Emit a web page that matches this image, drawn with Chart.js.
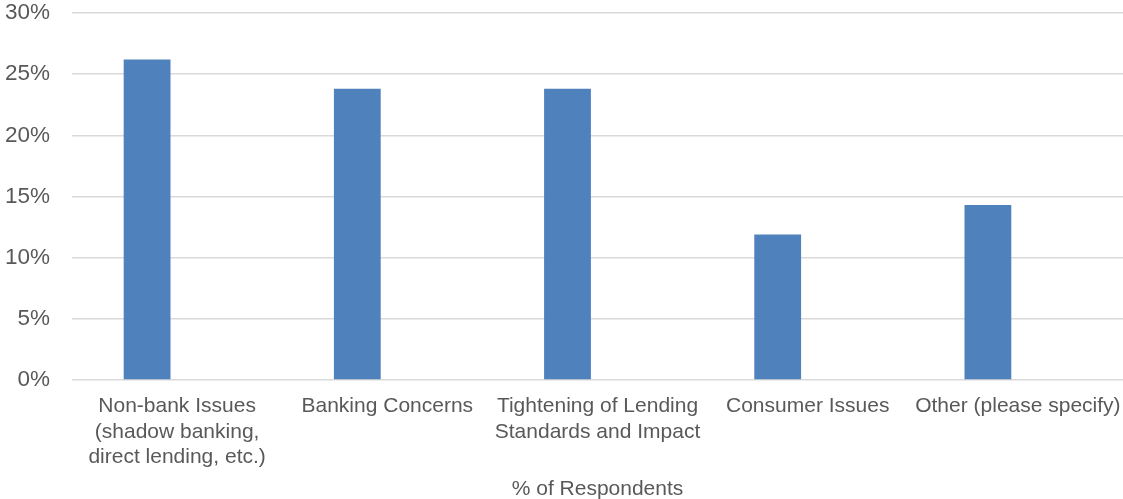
<!DOCTYPE html>
<html>
<head>
<meta charset="utf-8">
<script src="https://cdn.jsdelivr.net/npm/chart.js@4/dist/chart.umd.min.js"></script>
<style>
html,body{margin:0;padding:0;background:#fff;}
#wrap{width:1123px;height:499px;position:relative;}
</style>
</head>
<body>
<div id="wrap"><canvas id="c" width="1123" height="499"></canvas></div>
<script>
const categories = [
  ["Non-bank Issues", "(shadow banking,", "direct lending, etc.)"],
  "Banking Concerns",
  ["Tightening of Lending", "Standards and Impact"],
  "Consumer Issues",
  "Other (please specify)"
];
const respondents = [26.2, 23.8, 23.8, 11.9, 14.3];
const emptySeries = [null, null, null, null, null];
const yTicks = [0, 5, 10, 15, 20, 25, 30];
const axisTitle = "% of Respondents";

const FONT = "'Liberation Sans', Arial, sans-serif";
const TXT = "#595959";

new Chart(document.getElementById('c'), {
  type: 'bar',
  data: {
    labels: categories,
    datasets: [
      { data: respondents, backgroundColor: '#4f81bd', borderColor: '#4f81bd', borderWidth: 0,
        barPercentage: 0.78, categoryPercentage: 0.571 },
      { data: emptySeries, backgroundColor: '#c0504d',
        barPercentage: 0.78, categoryPercentage: 0.571 }
    ]
  },
  options: {
    responsive: false,
    animation: false,
    devicePixelRatio: 1,
    layout: { padding: 0 },
    plugins: { legend: { display: false }, tooltip: { enabled: false } },
    scales: {
      x: {
        grid: { display: false, drawTicks: false },
        border: { display: false },
        ticks: { color: TXT, font: { family: FONT, size: 21, lineHeight: 1.2 }, padding: 14, maxRotation: 0, autoSkip: false },
        title: { display: true, text: axisTitle, color: TXT, font: { family: FONT, size: 21, lineHeight: 1 }, padding: { top: 10, bottom: -1 } },
        afterFit: (s) => { s.paddingLeft = 0; s.paddingRight = 0; s.height = 119; }
      },
      y: {
        min: 0, max: 30,
        afterBuildTicks: (axis) => { axis.ticks = yTicks.map(v => ({ value: v })); },
        grid: { color: '#d9d9d9', lineWidth: 1.5, drawTicks: false },
        border: { display: false },
        ticks: { color: TXT, font: { family: FONT, size: 22.5 }, padding: 22, callback: v => v + '%' },
        afterFit: (s) => { s.paddingTop = 13; s.paddingBottom = 0; s.width = 72; }
      }
    }
  }
});
</script>
</body>
</html>
